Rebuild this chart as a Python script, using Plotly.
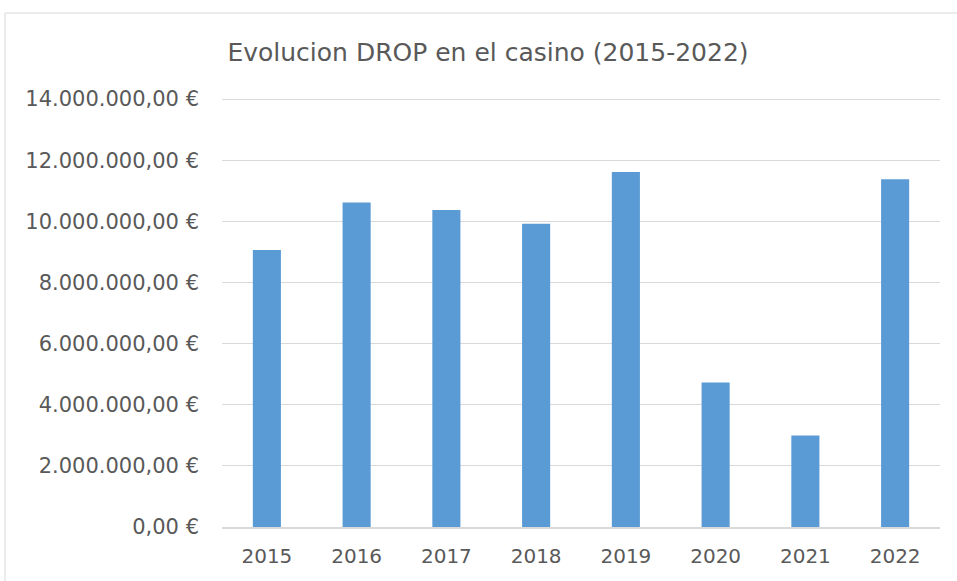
import plotly.graph_objects as go

years = ["2015", "2016", "2017", "2018", "2019", "2020", "2021", "2022"]
drop = [9060000, 10620000, 10370000, 9920000, 11620000, 4730000, 2990000, 11380000]
y_ticks = [0, 2000000, 4000000, 6000000, 8000000, 10000000, 12000000, 14000000]


def eur(v):
    s = f"{v:,.2f}".replace(",", "X").replace(".", ",").replace("X", ".")
    return s + " €"


y_labels = [eur(v) for v in y_ticks]

W, H = 957, 581
L, R, T, B = 222, 17, 97, 54
pw, ph = W - L - R, H - T - B

fig = go.Figure(go.Bar(x=years, y=drop, marker=dict(color="#5B9BD5", line=dict(width=0))))

fig.update_layout(
    width=W, height=H,
    margin=dict(l=L, r=R, t=T, b=B),
    paper_bgcolor="white", plot_bgcolor="white",
    bargap=0.687,
    showlegend=False,
    font=dict(family="DejaVu Sans", color="#595959"),
    title=dict(text="Evolucion DROP en el casino (2015-2022)", x=488 / W, xanchor="center",
               y=1 - 52 / H, yanchor="middle", font=dict(size=25, color="#595959")),
)
fig.update_yaxes(range=[0, 14070000], tickvals=y_ticks, ticktext=y_labels,
                 showgrid=True, gridcolor="#D9D9D9", gridwidth=1.3, zeroline=False,
                 showline=False, ticks="", ticklabelstandoff=22,
                 tickfont=dict(size=21, color="#595959"))
fig.update_xaxes(showline=True, linecolor="#D9D9D9", linewidth=1.5, ticks="",
                 ticklabelstandoff=10,
                 tickfont=dict(size=20, color="#595959"))

# chart area border
fig.add_shape(type="rect", xref="paper", yref="paper",
              x0=(5 - L) / pw, x1=(W + 5 - L) / pw,
              y0=-(B + 10) / ph, y1=(H - 13 - B) / ph,
              line=dict(color="#D9D9D9", width=1), fillcolor="rgba(0,0,0,0)", layer="below")

fig.write_html("out.html", config={"displayModeBar": False},
               post_script="document.body.style.margin='0';")
